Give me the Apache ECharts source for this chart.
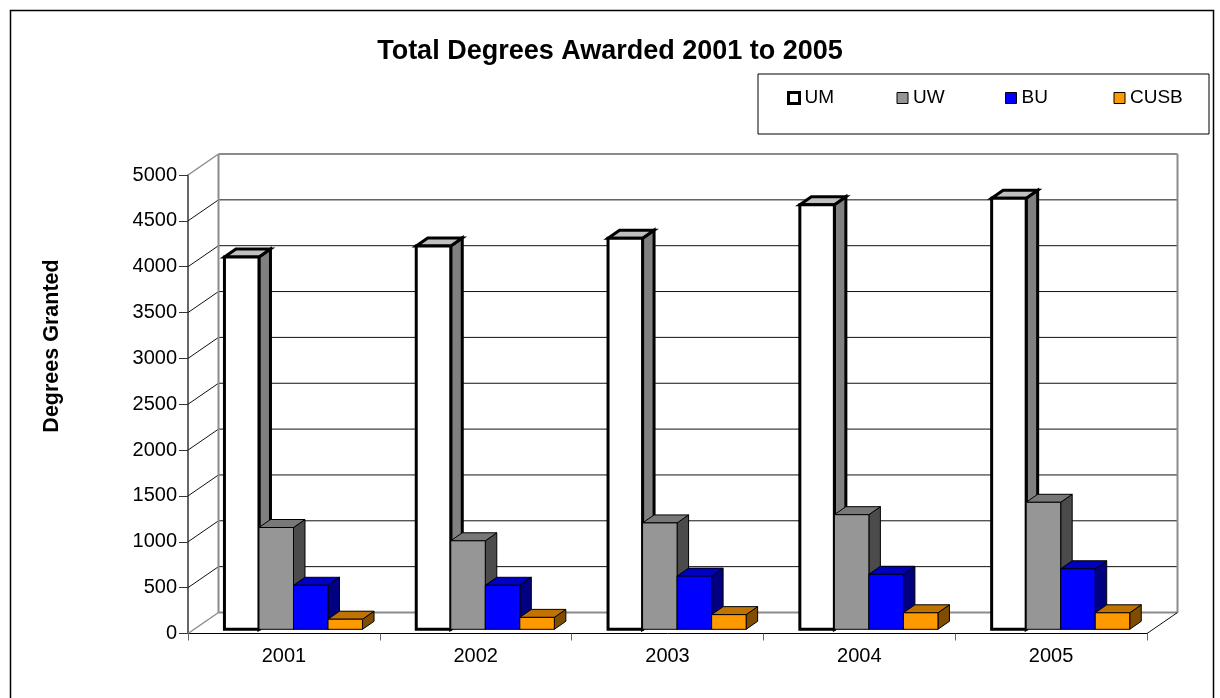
<!DOCTYPE html>
<html>
<head>
<meta charset="utf-8">
<script src="https://cdn.jsdelivr.net/npm/echarts@6/dist/echarts.min.js"></script>
<style>html,body{margin:0;padding:0;background:#fff;}#c{width:1220px;height:698px;}</style>
</head>
<body>
<div id="c"></div>
<script>
const years = ['2001', '2002', '2003', '2004', '2005'];
const um = [4060, 4180, 4265, 4630, 4700];
const uw = [1110, 965, 1160, 1250, 1385];
const bu = [480, 480, 580, 600, 660];
const cusb = [110, 130, 160, 180, 180];
const yTicks = [0, 500, 1000, 1500, 2000, 2500, 3000, 3500, 4000, 4500, 5000];

const FONT = 'Liberation Sans, Arial, sans-serif';
const WALL_DX = 30.5, WALL_DY = -21;
const BAR_DX = 11.5, BAR_DY = -8;
const BASE_DY = -4.2;
const GROUP_START = 0.19, BAR_W = 0.18;

const seriesDefs = [
  { name: 'UM', data: um, front: '#ffffff', top: '#c0c0c0', side: '#808080', lw: 3 },
  { name: 'UW', data: uw, front: '#969696', top: '#787878', side: '#4b4b4b', lw: 1 },
  { name: 'BU', data: bu, front: '#0000ff', top: '#0000c0', side: '#000080', lw: 1 },
  { name: 'CUSB', data: cusb, front: '#ff9900', top: '#c07300', side: '#804d00', lw: 1 }
];

function wallsRender(params, api) {
  const size = api.size([1, 0])[0];
  const n = years.length;
  const x0 = api.coord([0, 0])[0] - size / 2;
  const x1 = api.coord([n - 1, 0])[0] + size / 2;
  const children = [];
  const line = (a, b, c, d, color, w) => children.push({
    type: 'line', shape: { x1: a, y1: b, x2: c, y2: d },
    style: { stroke: color, lineWidth: w }
  });
  const y0 = api.coord([0, yTicks[0]])[1];
  const yMax = api.coord([0, yTicks[yTicks.length - 1]])[1];
  yTicks.forEach((v, k) => {
    const y = api.coord([0, v])[1];
    const edge = (k === 0 || k === yTicks.length - 1);
    const col = edge ? '#8c8c8c' : '#111';
    const w = edge ? 2 : 1;
    line(x0 + WALL_DX, y + WALL_DY, x1 + WALL_DX, y + WALL_DY, col, w);
    line(x0, y, x0 + WALL_DX, y + WALL_DY, col, edge ? 1.5 : 1);
  });
  line(x0 + WALL_DX, y0 + WALL_DY, x0 + WALL_DX, yMax + WALL_DY, '#8c8c8c', 2);
  line(x1 + WALL_DX, y0 + WALL_DY, x1 + WALL_DX, yMax + WALL_DY, '#8c8c8c', 2);
  line(x1, y0, x1 + WALL_DX, y0 + WALL_DY, '#111', 1);
  return { type: 'group', children };
}

function barRender(si) {
  const d = seriesDefs[si];
  return function (params, api) {
    const i = api.value(0), v = api.value(1);
    const size = api.size([1, 0])[0];
    const c = api.coord([i, 0]);
    const bl = c[0] - size / 2;
    const xa = bl + size * (GROUP_START + si * BAR_W);
    const xb = xa + size * BAR_W;
    const yb = c[1] + BASE_DY;
    const yt = api.coord([i, v])[1] + BASE_DY;
    const st = (fill) => ({ fill, stroke: '#000', lineWidth: d.lw, lineJoin: 'miter' });
    return {
      type: 'group',
      children: [
        { type: 'polygon', shape: { points: [[xb, yt], [xb + BAR_DX, yt + BAR_DY], [xb + BAR_DX, yb + BAR_DY], [xb, yb]] }, style: st(d.side) },
        { type: 'polygon', shape: { points: [[xa, yt], [xa + BAR_DX, yt + BAR_DY], [xb + BAR_DX, yt + BAR_DY], [xb, yt]] }, style: st(d.top) },
        { type: 'polygon', shape: { points: [[xa, yt], [xb, yt], [xb, yb], [xa, yb]] }, style: st(d.front) }
      ]
    };
  };
}

const chart = echarts.init(document.getElementById('c'), null, { renderer: 'canvas' });

const series = [{
  type: 'custom', name: '_walls', silent: true, clip: false, z: 1,
  renderItem: wallsRender, data: [[0, 0]], encode: { x: 0, y: 1 }
}];
seriesDefs.forEach((d, si) => {
  series.push({
    type: 'custom', name: d.name, clip: false, z: 2 + si,
    itemStyle: { color: d.front },
    renderItem: barRender(si),
    data: d.data.map((v, i) => [i, v]),
    encode: { x: 0, y: 1 }
  });
});

chart.setOption({
  animation: false,
  backgroundColor: '#fff',
  title: {
    text: 'Total Degrees Awarded 2001 to 2005',
    left: 'center', top: 38, padding: 0,
    textStyle: { fontFamily: FONT, fontSize: 27, fontWeight: 'bold', color: '#000' }
  },
  legend: {
    left: 758, top: 74, orient: 'horizontal',
    itemWidth: 11, itemHeight: 11, itemGap: 22,
    padding: [13, 9, 25, 29],
    borderColor: '#000', borderWidth: 1,
    selectedMode: false,
    textStyle: { fontFamily: FONT, fontSize: 19, color: '#000', width: 70, lineHeight: 22 },
    data: [
      { name: 'UM', icon: 'rect', itemStyle: { color: '#fff', borderColor: '#000', borderWidth: 3 } },
      { name: 'UW', icon: 'rect', itemStyle: { color: '#969696', borderColor: '#000', borderWidth: 1 } },
      { name: 'BU', icon: 'rect', itemStyle: { color: '#0000ff', borderColor: '#000', borderWidth: 1 } },
      { name: 'CUSB', icon: 'rect', itemStyle: { color: '#ff9900', borderColor: '#000', borderWidth: 1 } }
    ]
  },
  grid: { left: 188, right: 73, top: 175, bottom: 64.5, containLabel: false },
  xAxis: {
    type: 'category', data: years, boundaryGap: true,
    axisLine: { show: true, lineStyle: { color: '#000', width: 1 } },
    axisTick: { show: true, length: 7, alignWithLabel: false, lineStyle: { color: '#666' } },
    axisLabel: { fontFamily: FONT, fontSize: 20, color: '#000', margin: 13 },
    splitLine: { show: false }
  },
  yAxis: {
    type: 'value', min: 0, max: 5000, interval: 500,
    axisLine: { show: true, lineStyle: { color: '#333', width: 1.5 } },
    axisTick: { show: true, length: 9, lineStyle: { color: '#333' } },
    axisLabel: { fontFamily: FONT, fontSize: 20, color: '#000', margin: 11, formatter: (v) => String(v) },
    splitLine: { show: false }
  },
  graphic: [
    { type: 'rect', shape: { x: 10.5, y: 10.5, width: 1203, height: 720 }, style: { fill: 'none', stroke: '#000', lineWidth: 1.5 }, z: -1, silent: true },
    { type: 'text', x: 52, y: 346, rotation: Math.PI / 2, style: { text: 'Degrees Granted', fontFamily: FONT, fontSize: 21.5, fontWeight: 'bold', fill: '#000', textAlign: 'center', textVerticalAlign: 'middle' } }
  ],
  series
});
</script>
</body>
</html>
